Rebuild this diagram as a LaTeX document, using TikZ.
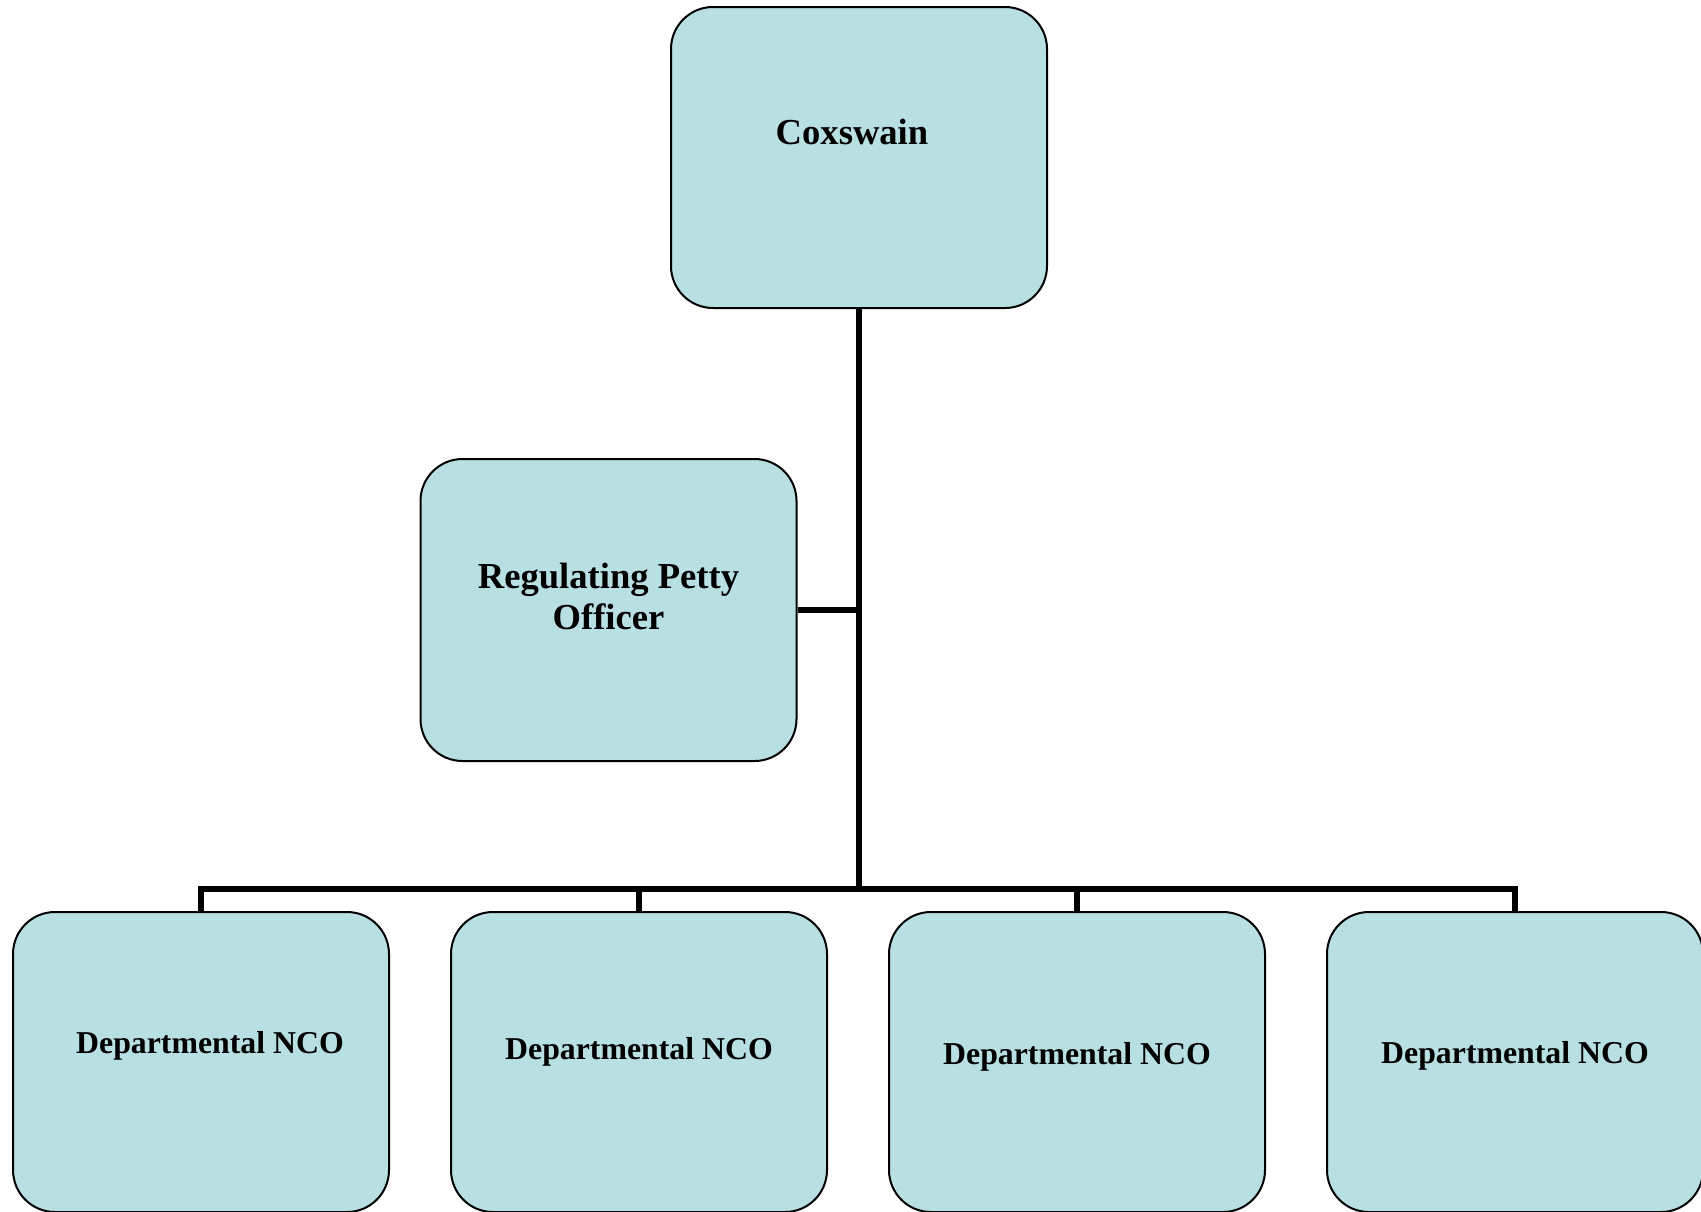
\documentclass[tikz,border=0pt]{standalone}
\usepackage{fontspec}
\setmainfont{Liberation Serif}
\usepackage{tikz}
\usetikzlibrary{positioning}
\definecolor{boxblue}{RGB}{184,223,226}
\tikzstyle{post} = [draw, fill=boxblue, rectangle, rounded corners=21pt, line width=1pt, inner sep=0pt, minimum width=188pt, align=center]
\tikzstyle{dept} = [post, minimum height=150pt, font=\deptfont]
\tikzstyle{wire} = [draw, line width=3pt]
\newcommand{\headfont}{\bfseries\fontsize{18.3}{20.5}\selectfont}
\newcommand{\deptfont}{\bfseries\fontsize{15.9}{19}\selectfont}

\begin{document}
\begin{tikzpicture}[x=0.5pt, y=-0.5pt, node distance=219pt]
    \useasboundingbox (0,0) rectangle (1701,1211);
    \clip (0,0) rectangle (1701,1211);
    % top of the chain
    \node [post, minimum height=150.5pt, text height=68.5pt, text depth=82pt, font=\headfont] (cox) at (859,157.5) {Coxswain\hspace*{7pt}};
    \node [post, minimum height=151pt, text height=85pt, text depth=66pt, font=\headfont] (rpo) at (608.5,610) {Regulating Petty\\Officer};
    % departments
    \node [dept, text height=70.5pt, text depth=79.5pt] (dept1) at (201,1062) {\hspace*{9pt}Departmental NCO};
    \node [dept, right of=dept1, text height=73.5pt, text depth=76.5pt] (dept2) {Departmental NCO};
    \node [dept, right of=dept2, text height=76pt, text depth=74pt] (dept3) {Departmental NCO};
    \node [dept, right of=dept3, text height=75.5pt, text depth=74.5pt] (dept4) {Departmental NCO};
    \coordinate (bus) at (859,889);
    \draw [wire] (cox.south) -- (bus);
    \draw [wire] (rpo.east) -- (rpo.east -| bus);
    \draw [wire] (dept1.north) |- (bus) -| (dept4.north);
    \draw [wire] (dept2.north) -- (dept2.north |- bus);
    \draw [wire] (dept3.north) -- (dept3.north |- bus);
\end{tikzpicture}
\end{document}
